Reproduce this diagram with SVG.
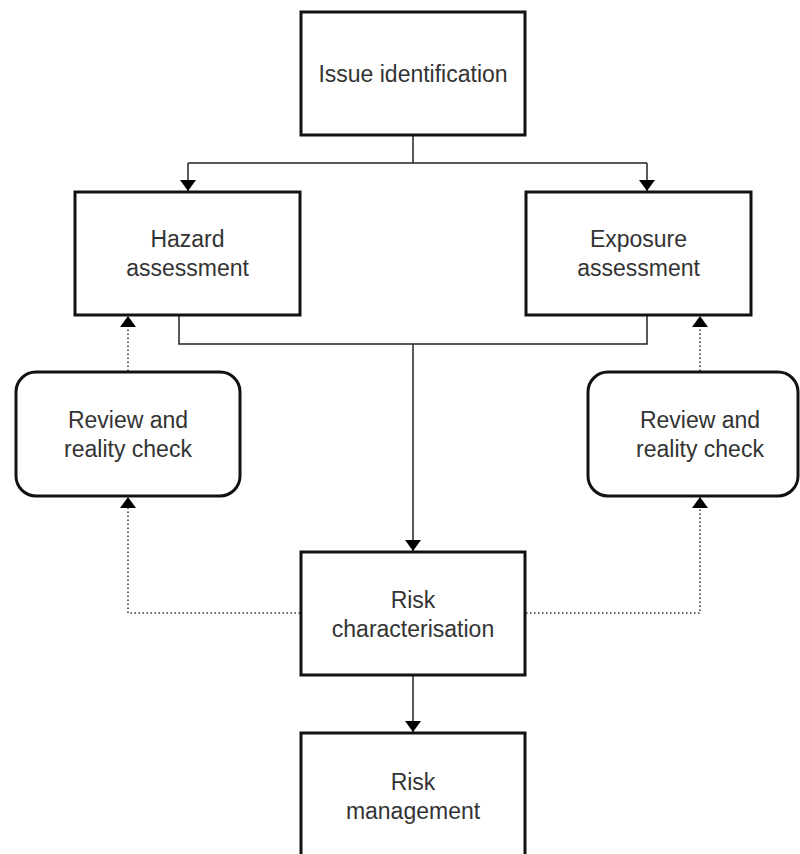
<svg xmlns="http://www.w3.org/2000/svg" width="800" height="854" viewBox="0 0 800 854">
<style>
.box{fill:#fff;stroke:#111;stroke-width:3}
.t{font-family:"Liberation Sans",Arial,sans-serif;font-size:23px;fill:#333;text-anchor:middle}
.c{fill:none;stroke:#222;stroke-width:1.5}
.d{fill:none;stroke:#333;stroke-width:1.5;stroke-dasharray:1.5 2.5}
</style>
<defs>
<marker id="ah" markerUnits="userSpaceOnUse" markerWidth="20" markerHeight="20" refX="11" refY="8" orient="auto">
<path d="M0,0 L11,8 L0,16 Z" fill="#000"/>
</marker>
</defs>
<rect width="800" height="854" fill="#fff"/>
<g id="connectors">
<path class="c" d="M413,135 V163"/>
<path class="c" d="M188,163 H647"/>
<path class="c" d="M188,163 V191" marker-end="url(#ah)"/>
<path class="c" d="M647,163 V191" marker-end="url(#ah)"/>
<path class="c" d="M179,316 V344 H647 V316"/>
<path class="c" d="M413,344 V551" marker-end="url(#ah)"/>
<path class="c" d="M413,676 V732" marker-end="url(#ah)"/>
<path class="d" d="M300,613 H128 V497" marker-end="url(#ah)"/>
<path class="d" d="M128,371 V316" marker-end="url(#ah)"/>
<path class="d" d="M526,613 H700 V497" marker-end="url(#ah)"/>
<path class="d" d="M700,371 V316" marker-end="url(#ah)"/>
</g>
<g id="issue"><rect class="box" x="301" y="12" width="224" height="123"/><text class="t" x="413" y="82">Issue identification</text></g>
<g id="hazard"><rect class="box" x="75" y="192" width="225" height="123"/><text class="t" x="187.5" y="247">Hazard</text><text class="t" x="187.5" y="276">assessment</text></g>
<g id="exposure"><rect class="box" x="526" y="192" width="225" height="123"/><text class="t" x="638.5" y="247">Exposure</text><text class="t" x="638.5" y="276">assessment</text></g>
<g id="review-left"><rect class="box" x="16" y="372" width="224" height="124" rx="20"/><text class="t" x="128" y="428">Review and</text><text class="t" x="128" y="457">reality check</text></g>
<g id="review-right"><rect class="box" x="588" y="372" width="210" height="124" rx="20"/><text class="t" x="700" y="428">Review and</text><text class="t" x="700" y="457">reality check</text></g>
<g id="risk-char"><rect class="box" x="301" y="552" width="224" height="123"/><text class="t" x="413" y="608">Risk</text><text class="t" x="413" y="637">characterisation</text></g>
<g id="risk-mgmt"><rect class="box" x="301" y="733" width="224" height="130"/><text class="t" x="413" y="790">Risk</text><text class="t" x="413" y="819">management</text></g>
</svg>
